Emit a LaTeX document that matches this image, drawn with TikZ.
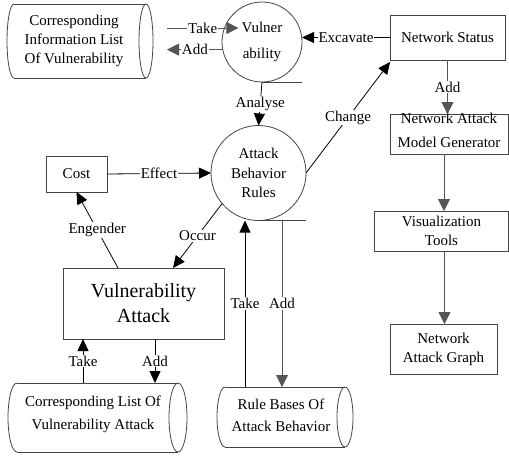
\documentclass[tikz,border=0pt]{standalone}
\usepackage{fontspec}
\setmainfont{Liberation Serif}
\usetikzlibrary{arrows.meta}
\definecolor{dg}{HTML}{555555}
\definecolor{edge}{HTML}{444444}
\tikzset{
  txt/.style={font=\fontsize{15}{19}\selectfont, align=center, inner sep=0pt},
  boxn/.style={draw=edge, line width=0.8pt, rectangle, inner sep=0pt, outer sep=0pt, font=\fontsize{15}{19}\selectfont, align=center},
  circn/.style={draw=edge, line width=0.8pt, circle, inner sep=0pt, outer sep=0pt, font=\fontsize{15}{19.5}\selectfont, align=center},
  storen/.style={rectangle, inner sep=0pt, outer sep=0pt},
  lbl/.style={fill=white, text=black, inner sep=1pt, font=\fontsize{15}{18}\selectfont},
  blk/.style={line width=0.8pt, black, -{Triangle[length=12pt,width=11pt]}},
  gry/.style={line width=0.8pt, dg, -{Triangle[length=12pt,width=12pt]}},
  plain/.style={line width=0.8pt, edge},
}
\newcommand\drawstore[3]{% node, rx, ry
  \draw[plain] ([xshift=#2pt]#1.north west) -- ([xshift=-#2pt]#1.north east);
  \draw[plain] ([xshift=#2pt]#1.south west) -- ([xshift=-#2pt]#1.south east);
  \draw[plain] ([xshift=-#2pt]#1.east) ellipse[x radius=#2pt, y radius=#3pt];
  \draw[plain] ([xshift=#2pt]#1.north west) arc[start angle=90, end angle=270, x radius=#2pt, y radius=#3pt];
}
\begin{document}
\begin{tikzpicture}[x=1pt,y=1pt]
\useasboundingbox (0,0) rectangle (509,-456);

% stores
\node[storen, minimum width=146pt, minimum height=74pt] (c1) at (80,-41) {};
\drawstore{c1}{7}{37}
\node[txt] (c1t) at (74,-41) {Corresponding\\Information List\\Of Vulnerability};

\node[storen, minimum width=179pt, minimum height=69pt] (clva) at (97.5,-417.5) {};
\drawstore{clva}{9}{34.5}
\node[txt, font=\fontsize{15}{23}\selectfont] (clvat) at (93,-414) {Corresponding List Of\\Vulnerability Attack};

\node[storen, minimum width=136pt, minimum height=60pt] (rb) at (285,-417) {};
\drawstore{rb}{8}{30}
\node[txt, font=\fontsize{15}{22}\selectfont] (rbt) at (281,-415) {Rule Bases Of\\Attack Behavior};

% circles
\node[circn, minimum size=80pt] (v) at (262,-42) {Vulner\\[7pt]ability};
\node[circn, minimum size=95pt] (abr) at (258.5,-173) {Attack\\Behavior\\Rules};

% boxes
\node[boxn, minimum width=115pt, minimum height=45pt] (ns) at (447.5,-37.5) {Network Status};
\node[boxn, minimum width=118pt, minimum height=40pt] (namg) at (449,-134) {};
\node[txt, font=\fontsize{15}{24}\selectfont] (namgt) at (449,-130) {Network Attack\\Model Generator};
\node[boxn, minimum width=134pt, minimum height=40pt] (vis) at (441.5,-231) {Visualization\\Tools};
\node[boxn, minimum width=107pt, minimum height=50pt] (nag) at (443.5,-349) {Network\\Attack Graph};
\node[boxn, minimum width=61pt, minimum height=36pt] (cost) at (76.5,-174) {Cost};
\node[boxn, minimum width=161pt, minimum height=71pt, font=\fontsize{20}{25}\selectfont] (va) at (143.5,-303.5) {Vulnerability\\Attack};

% stubs
\draw[plain] (v.south) -- ++(40,0);
\draw[plain] (abr.south) -- ++(47,0);

% connectors
\draw[gry] ([xshift=14pt,yshift=13pt]c1.east) -- node[lbl] {Take} ([xshift=14pt,yshift=13pt]c1.east -| v.160);
\draw[gry] (v.191) -- node[lbl] {Add} ([xshift=14pt]c1.east |- v.191);
\draw[blk] (ns.west) -- node[lbl] {Excavate} (ns.west -| v.east);
\draw[gry] (ns.south) -- node[lbl] {Add} (ns.south |- namg.north);
\draw[gry] ([xshift=-5pt]namg.south) -- ([xshift=-5pt]namg.south |- vis.north);
\draw[gry] ([xshift=3pt]vis.south) -- ([xshift=3pt]vis.south |- nag.north);
\draw[blk] (abr.east) -- node[lbl] {Change} ([yshift=-2pt]ns.south west);
\draw[blk] (v.south) -- node[lbl] {Analyse} (abr.north);
\draw[blk] (cost.east) -- node[lbl] {Effect} (abr.west);
\draw[blk] ([xshift=-25.5pt]va.north) -- node[lbl] {Engender} (cost.south);
\draw[blk] (abr.220) -- node[lbl] {Occur} ([xshift=29.5pt]va.north);
\draw[blk] ([xshift=-14.5pt]clva.north) -- node[lbl] {Take} ([xshift=-60.5pt]va.south);
\draw[blk] ([xshift=11.5pt]va.south) -- node[lbl] {Add} ([xshift=57.5pt]clva.north);
\draw[blk] ([xshift=-40pt]rb.north) -- node[lbl, pos=0.5] {Take} ([xshift=-13.5pt]abr.south);
\draw[gry] ([xshift=23.5pt]abr.south) -- node[lbl, pos=0.5] {Add} ([xshift=-3pt]rb.north);
\end{tikzpicture}
\end{document}
